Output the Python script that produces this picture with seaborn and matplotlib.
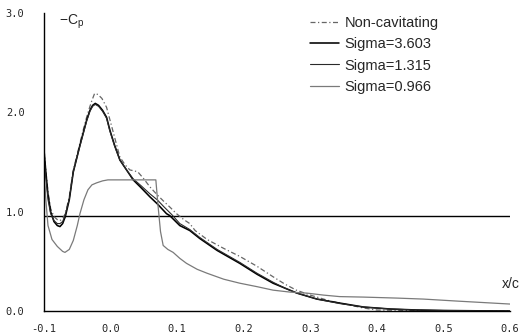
import matplotlib
matplotlib.use("Agg")
import matplotlib.pyplot as plt
import seaborn as sns
import pandas as pd

# ---- data ----
x_noncav = [-0.100, -0.097, -0.094, -0.090, -0.085, -0.080, -0.076, -0.072, -0.068, -0.062,
            -0.056, -0.050, -0.046, -0.040, -0.036, -0.031, -0.028, -0.024, -0.019, -0.013,
            -0.006, 0.002, 0.008, 0.014, 0.022, 0.029, 0.036, 0.041, 0.050, 0.059, 0.070,
            0.079, 0.090, 0.099, 0.110, 0.119, 0.127, 0.145, 0.170, 0.194, 0.220, 0.244,
            0.262, 0.279, 0.300, 0.330, 0.359, 0.380, 0.400, 0.450, 0.500, 0.550, 0.600]
y_noncav = [1.62, 1.40, 1.20, 1.03, 0.95, 0.92, 0.91, 0.93, 0.98, 1.15,
            1.42, 1.58, 1.69, 1.85, 1.95, 2.06, 2.12, 2.19, 2.18, 2.14,
            2.05, 1.85, 1.70, 1.55, 1.47, 1.42, 1.41, 1.40, 1.33, 1.25, 1.17,
            1.11, 1.04, 0.98, 0.92, 0.88, 0.81, 0.72, 0.63, 0.55, 0.45, 0.345,
            0.27, 0.21, 0.16, 0.10, 0.06, 0.03, 0.01, 0.005, 0.003, 0.002, 0.0]

x_s3603 = [-0.100, -0.097, -0.094, -0.090, -0.085, -0.080, -0.076, -0.072, -0.068, -0.062,
           -0.056, -0.050, -0.046, -0.040, -0.036, -0.031, -0.027, -0.023, -0.018, -0.012,
           -0.006, -0.001, 0.006, 0.014, 0.024, 0.034, 0.046, 0.059, 0.070, 0.084, 0.089,
           0.104, 0.119, 0.134, 0.160, 0.194, 0.220, 0.244, 0.262, 0.280, 0.310, 0.344,
           0.380, 0.420, 0.460, 0.500, 0.550, 0.600]
y_s3603 = [1.62, 1.38, 1.17, 1.00, 0.90, 0.86, 0.85, 0.88, 0.95, 1.12,
           1.40, 1.56, 1.67, 1.82, 1.92, 2.02, 2.07, 2.09, 2.07, 2.02,
           1.95, 1.82, 1.67, 1.52, 1.42, 1.32, 1.24, 1.15, 1.08, 0.98, 0.96,
           0.86, 0.81, 0.73, 0.61, 0.48, 0.37, 0.28, 0.23, 0.18, 0.12, 0.08,
           0.04, 0.02, 0.01, 0.005, 0.002, 0.0]

x_s1315 = [-0.100, -0.097, -0.094, -0.090, -0.085, -0.080, -0.076, -0.072, -0.068, -0.062,
           -0.056, -0.050, -0.046, -0.040, -0.036, -0.031, -0.027, -0.023, -0.018, -0.012,
           -0.006, -0.001, 0.006, 0.014, 0.024, 0.034, 0.046, 0.059, 0.070, 0.080, 0.092,
           0.104, 0.119, 0.134, 0.160, 0.194, 0.220, 0.244, 0.262, 0.280, 0.310, 0.344,
           0.380, 0.420, 0.460, 0.500, 0.550, 0.600]
y_s1315 = [1.55, 1.32, 1.12, 0.98, 0.91, 0.88, 0.88, 0.90, 0.97, 1.13,
           1.40, 1.56, 1.66, 1.81, 1.91, 2.01, 2.06, 2.08, 2.06, 2.01,
           1.94, 1.81, 1.66, 1.52, 1.42, 1.33, 1.26, 1.18, 1.12, 1.05, 0.97,
           0.88, 0.82, 0.74, 0.62, 0.49, 0.38, 0.29, 0.23, 0.18, 0.12, 0.075,
           0.04, 0.02, 0.01, 0.005, 0.002, 0.0]

x_s0966 = [-0.100, -0.097, -0.094, -0.088, -0.080, -0.072, -0.0685, -0.062, -0.056, -0.050,
           -0.046, -0.040, -0.034, -0.028, -0.021, -0.012, -0.004, 0.010, 0.030, 0.050,
           0.068, 0.071, 0.075, 0.079, 0.086, 0.094, 0.104, 0.114, 0.130, 0.145, 0.170,
           0.194, 0.220, 0.244, 0.270, 0.295, 0.320, 0.344, 0.380, 0.430, 0.470, 0.520,
           0.560, 0.600]
y_s0966 = [1.40, 1.10, 0.86, 0.72, 0.65, 0.60, 0.59, 0.62, 0.71, 0.86,
           0.98, 1.12, 1.22, 1.27, 1.29, 1.31, 1.32, 1.32, 1.32, 1.32,
           1.32, 1.08, 0.80, 0.66, 0.62, 0.59, 0.53, 0.48, 0.42, 0.38, 0.32,
           0.28, 0.245, 0.21, 0.19, 0.18, 0.16, 0.145, 0.14, 0.13, 0.12, 0.10,
           0.085, 0.07]

x_vapour = [-0.100, 0.600]
y_vapour = [0.96, 0.96]

series_labels = ["Non-cavitating", "Sigma=3.603", "Sigma=1.315", "Sigma=0.966"]
x_ticks = [-0.1, 0.0, 0.1, 0.2, 0.3, 0.4, 0.5, 0.6]
y_ticks = [0.0, 1.0, 2.0, 3.0]

# ---- style ----
sns.set_style("white")
plt.rcParams["font.family"] = ["Liberation Sans", "DejaVu Sans"]

fig = plt.figure(figsize=(5.22, 3.35), dpi=100)
ax = fig.add_axes([44 / 522, 1 - 311 / 335, 466 / 522, 298 / 335])

sns.lineplot(x=x_vapour, y=y_vapour, ax=ax, color="black", lw=1.0, label="_nolegend_")
sns.lineplot(x=x_noncav, y=y_noncav, ax=ax, color="#666666", lw=0.9,
             linestyle=(0, (4, 2, 1, 2)), label=series_labels[0])
sns.lineplot(x=x_s3603, y=y_s3603, ax=ax, color="black", lw=1.15, label=series_labels[1])
sns.lineplot(x=x_s1315, y=y_s1315, ax=ax, color="#2a2a2a", lw=0.8, label=series_labels[2])
sns.lineplot(x=x_s0966, y=y_s0966, ax=ax, color="#7a7a7a", lw=0.9, label=series_labels[3])

ax.set_xlim(-0.1, 0.6)
ax.set_ylim(0.0, 3.0)
ax.set_xticks(x_ticks)
ax.set_yticks(y_ticks)
ax.set_xticklabels([f"{t:.1f}" for t in x_ticks], family="DejaVu Sans Mono", fontsize=7.5)
ax.set_yticklabels([f"{t:.1f}" for t in y_ticks], family="DejaVu Sans Mono", fontsize=7.5)
ax.tick_params(axis="both", direction="in", length=4, width=1, color="black")
ax.tick_params(axis="y", pad=14)
ax.tick_params(axis="x", pad=9)
ax.set_xlabel("")
ax.set_ylabel("")
for s in ["top", "right"]:
    ax.spines[s].set_visible(False)
for s in ["left", "bottom"]:
    ax.spines[s].set_color("black")
    ax.spines[s].set_linewidth(1.0)

leg = ax.legend(loc="upper left", bbox_to_anchor=(310 / 522, 1 - 16 / 335),
                bbox_transform=fig.transFigure, frameon=False, fontsize=10.5,
                handlelength=2.0, handletextpad=0.35, labelspacing=0.5,
                borderpad=0, borderaxespad=0)

fig.text(59 / 522, 1 - 22 / 335, r"$\mathregular{-C_p}$", fontsize=10, va="center", ha="left")
fig.text(502 / 522, 1 - 284 / 335, "x/c", fontsize=10, va="center", ha="left")

fig.savefig("out.png", dpi=100)
